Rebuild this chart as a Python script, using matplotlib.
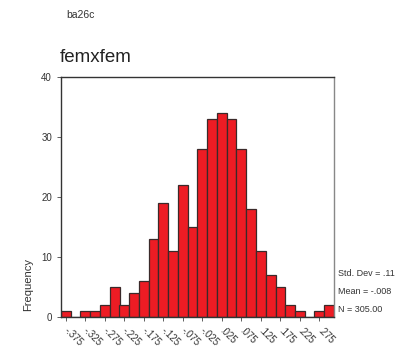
import matplotlib
matplotlib.use('Agg')
import matplotlib.pyplot as plt
from matplotlib.transforms import ScaledTranslation

plt.rcParams['font.family'] = ['Liberation Sans', 'DejaVu Sans']

# histogram of femxfem, bin width .025, bin centres from -.375 to .300
bin_start = -0.375
bin_width = 0.025
counts = [1, 0, 1, 1, 2, 5, 2, 4, 6, 13, 19, 11, 22, 15, 28,
          33, 34, 33, 28, 18, 11, 7, 5, 2, 1, 0, 1, 2]
tick_labels = ['-.375', '-.325', '-.275', '-.225', '-.175', '-.125', '-.075',
               '-.025', '.025', '.075', '.125', '.175', '.225', '.275']
stats_text = ['Std. Dev = .11', 'Mean = -.008', 'N = 305.00']

centers = [bin_start + i * bin_width for i in range(len(counts))]

W, H = 409, 352
fig = plt.figure(figsize=(W / 100, H / 100), dpi=100)
ax = fig.add_axes([61 / W, 35.3 / H, 273 / W, 239.7 / H])

ax.bar(centers, counts, width=bin_width, color='#ED1C24',
       edgecolor='#3a2a2a', linewidth=0.9)

ax.set_xlim(centers[0] - bin_width / 2, centers[-1] + bin_width / 2)
ax.set_ylim(0, 40)
ax.set_yticks([0, 10, 20, 30, 40])
ax.set_xticks(centers[0:27:2])
ax.set_xticklabels(tick_labels, rotation=-45, ha='left', va='top',
                   rotation_mode='anchor')
ax.tick_params(axis='both', labelsize=7, colors='#444444', length=3,
               width=0.6, labelcolor='#333333')
ax.tick_params(axis='x', pad=3)
# nudge rotated labels a little to the right, like the original
shift = ScaledTranslation(3 / 100, 0, fig.dpi_scale_trans)
for lab in ax.get_xticklabels():
    lab.set_transform(lab.get_transform() + shift)

for side in ['left', 'bottom', 'top']:
    ax.spines[side].set_color('#333333')
    ax.spines[side].set_linewidth(1.0)
ax.spines['right'].set_color('#888888')
ax.spines['right'].set_linewidth(1.0)

fig.text(66 / W, 1 - 15 / H, 'ba26c', fontsize=7.5, color='#333333',
         ha='left', va='center')
fig.text(60 / W, 1 - 62 / H, 'femxfem', fontsize=13.5, color='#222222',
         ha='left', va='baseline')
fig.text(28 / W, 1 - 284.5 / H, 'Frequency', fontsize=8, color='#333333',
         rotation=90, ha='center', va='center')

for i, s in enumerate(stats_text):
    fig.text(338 / W, 1 - (273 + 18.5 * i) / H, s, fontsize=6.5,
             color='#333333', ha='left', va='center')

fig.savefig('out.png', dpi=100)
